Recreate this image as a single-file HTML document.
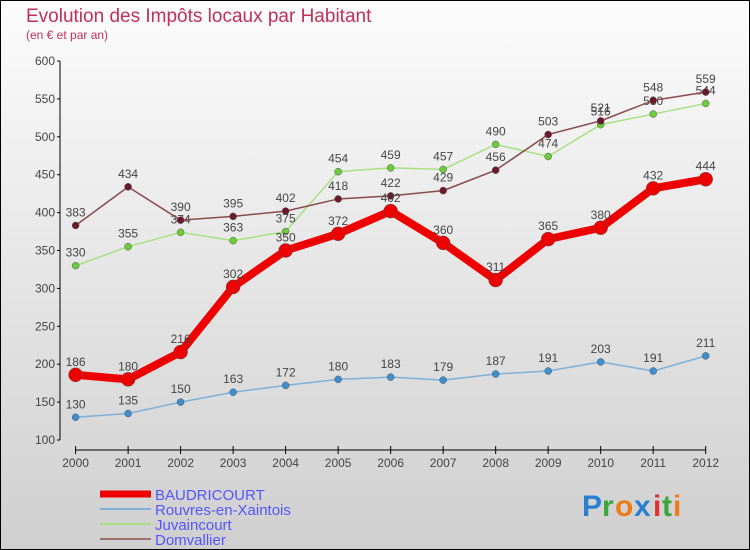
<!DOCTYPE html>
<html><head><meta charset="utf-8"><style>
html,body{margin:0;padding:0}
body{width:750px;height:550px;overflow:hidden;font-family:"Liberation Sans",sans-serif}
#wrap{position:absolute;left:0;top:0;width:748px;height:548px;border:1px solid #000;background:linear-gradient(#fcfcfc,#cfcfcf)}
</style></head><body>
<div id="wrap"></div>
<svg id="chart" width="750" height="550" style="position:absolute;left:0;top:0">
<text x="26" y="22" font-size="19" fill="#c0305a">Evolution des Impôts locaux par Habitant</text>
<text x="26" y="39" font-size="12" fill="#c0305a">(en € et par an)</text>
<g id="axes"></g><g id="series"></g><g id="legend"></g>
<g font-size="30" font-weight="bold">
<text x="582" y="516" fill="#2b7fd0">P</text><text x="602" y="516" fill="#3aa63a">r</text><text x="615" y="516" fill="#f07a1a">o</text><text x="634" y="516" fill="#2b7fd0">x</text><text x="653" y="516" fill="#e03030">i</text><text x="662" y="516" fill="#3aa63a">t</text><text x="673" y="516" fill="#f07a1a">i</text>
</g>
</svg>
<script>
const years=[2000,2001,2002,2003,2004,2005,2006,2007,2008,2009,2010,2011,2012];
const baudricourt=[186,180,216,302,350,372,402,360,311,365,380,432,444];
const rouvres=[130,135,150,163,172,180,183,179,187,191,203,191,211];
const juvaincourt=[330,355,374,363,375,454,459,457,490,474,516,530,544];
const domvallier=[383,434,390,395,402,418,422,429,456,503,521,548,559];
const yTicks=[100,150,200,250,300,350,400,450,500,550,600];
const NS='http://www.w3.org/2000/svg';
const X=i=>75.6+i*(705.7-75.6)/(years.length-1);
const Y=v=>440-(v-100)*(440-61)/500;
function mk(tag,attrs,parent,txt){const e=document.createElementNS(NS,tag);for(const k in attrs)e.setAttribute(k,attrs[k]);if(txt!==undefined)e.textContent=txt;parent.appendChild(e);return e;}
const axes=document.getElementById('axes');
let yl=mk('line',{x1:60,y1:Y(600),x2:60,y2:Y(100),stroke:'#000'},axes);


yTicks.forEach(v=>{
 mk('line',{x1:57,x2:60,y1:Y(v),y2:Y(v),stroke:'#000'},axes);
 const t=mk('text',{x:55,y:Y(v)+4,'font-size':12,fill:'#444','text-anchor':'end'},axes,v);
 
 
});
let xl=mk('line',{x1:X(0),y1:450,x2:X(12),y2:450,stroke:'#000'},axes);


years.forEach((y,i)=>{
 mk('line',{x1:X(i),x2:X(i),y1:446,y2:454,stroke:'#000'},axes);
 const t=mk('text',{x:X(i),y:467,'font-size':12,fill:'#444','text-anchor':'middle'},axes,y);
 
 
});
const seriesG=document.getElementById('series');
function drawSeries(name,vals,color,dot,w,r){
 const g=mk('g',{},seriesG);
 
 
 const l=mk('polyline',{points:vals.map((v,i)=>X(i)+','+Y(v)).join(' '),fill:'none',stroke:color,'stroke-width':w,'stroke-linejoin':'round'},g);
 
 
 vals.forEach((v,i)=>{
  const c=mk('circle',{cx:X(i),cy:Y(v),r:r,fill:dot,stroke:'#555','stroke-width':0.5},g);
  
  
  const t=mk('text',{x:X(i),y:Y(v)-9,'font-size':12,fill:'#444','text-anchor':'middle'},g,v);
  
  
 });
}
drawSeries('rouvres',rouvres,'#7fb0d8','#3d8fd0',1.5,3.5);
drawSeries('juvaincourt',juvaincourt,'#a6e080','#6ccc3c',1.5,3.5);
drawSeries('domvallier',domvallier,'#8a4a4a','#6a1a2a',1.5,3.5);
drawSeries('baudricourt',baudricourt,'#ee0000','#ee0000',8,7);
const lg=document.getElementById('legend');
const items=[['BAUDRICOURT','#ee0000',7],['Rouvres-en-Xaintois','#7fb0d8',2],['Juvaincourt','#a6e080',2],['Domvallier','#a07070',2]];
items.forEach((it,k)=>{
 const y=494+k*15;
 const g=mk('g',{},lg);
 
 
 mk('line',{x1:100,x2:151,y1:y,y2:y,stroke:it[1],'stroke-width':it[2]},g);
 mk('text',{x:155,y:y+6,'font-size':15,fill:'#5555ff'},g,it[0]);
});
</script>
</body></html>
